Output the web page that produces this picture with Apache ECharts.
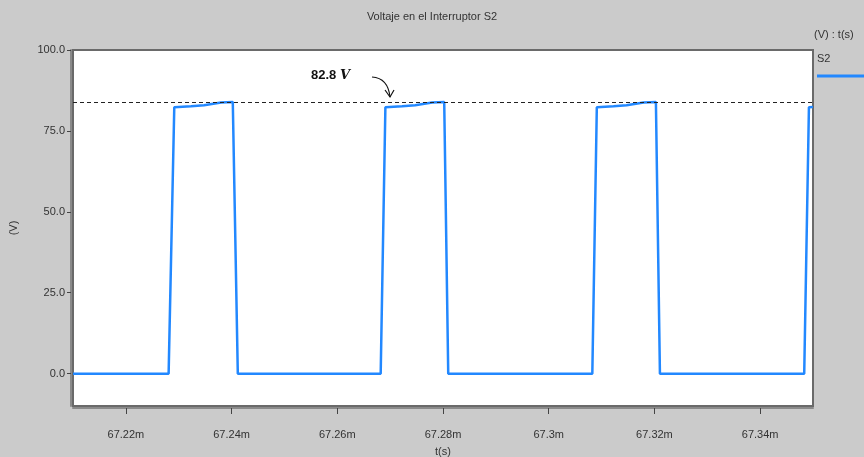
<!DOCTYPE html>
<html><head><meta charset="utf-8">
<script src="https://cdn.jsdelivr.net/npm/echarts@6/dist/echarts.min.js"></script>
<style>html,body{margin:0;padding:0;background:#cbcbcb}#c{width:864px;height:457px}</style>
</head><body><div id="c"></div>
<script>
// time in ms, voltage in V
const timeMs = [67.2100, 67.22809, 67.22916, 67.23232, 67.23479, 67.23801, 67.24023, 67.24118,
                67.26821, 67.26910, 67.27226, 67.27473, 67.27795, 67.28023, 67.28099,
                67.30825, 67.30910, 67.31226, 67.31473, 67.31795, 67.32028, 67.32104,
                67.34834, 67.34923, 67.3500];
const voltS2 = [0, 0, 82.3, 82.6, 82.9, 83.8, 83.95, 0,
                0, 82.3, 82.6, 82.9, 83.8, 83.95, 0,
                0, 82.3, 82.6, 82.9, 83.8, 83.95, 0,
                0, 82.3, 82.4];
const xTicks = [67.22, 67.24, 67.26, 67.28, 67.30, 67.32, 67.34];
const yTicks = [0, 25, 50, 75, 100];
const peakLine = 84.0;
const peakLabel = '82.8';

const font = '"Liberation Sans Narrow","Liberation Sans",Arial,sans-serif';
const chart = echarts.init(document.getElementById('c'), null, {renderer: 'canvas'});
const data = timeMs.map((t, i) => [t, voltS2[i]]);
chart.setOption({
  backgroundColor: '#cbcbcb',
  animation: false,
  title: {text: 'Voltaje en el Interruptor S2', left: 'center', top: 6,
    textStyle: {fontFamily: font, fontSize: 11, fontWeight: 'normal', color: '#333'}},
  grid: {left: 73, right: 51, top: 50, bottom: 51, show: true, backgroundColor: '#fff',
    borderColor: '#6a6a6a', borderWidth: 2, containLabel: false, outerBoundsMode: 'none'},
  xAxis: {type: 'value', min: 67.21, max: 67.35, offset: 2,
    name: 't(s)', nameLocation: 'middle', nameGap: 38,
    nameTextStyle: {fontFamily: font, fontSize: 11, color: '#333'},
    axisLine: {show: true, onZero: false, lineStyle: {color: '#8a8a8a', width: 2}},
    axisTick: {show: true, length: 6, customValues: xTicks, lineStyle: {color: '#444'}},
    axisLabel: {customValues: xTicks, margin: 21, fontFamily: font, fontSize: 11, color: '#333',
      formatter: v => String(+v.toFixed(2)) + 'm'},
    splitLine: {show: false}},
  yAxis: {type: 'value', min: -10, max: 100, offset: 2,
    name: '(V)', nameLocation: 'middle', nameGap: 52, nameRotate: 90,
    nameTextStyle: {fontFamily: font, fontSize: 11, color: '#333'},
    axisLine: {show: true, onZero: false, lineStyle: {color: '#8a8a8a', width: 2}},
    axisTick: {show: true, length: 4, customValues: yTicks, lineStyle: {color: '#444'}},
    axisLabel: {customValues: yTicks, margin: 6, fontFamily: font, fontSize: 11, color: '#333',
      formatter: v => v.toFixed(1)},
    splitLine: {show: false}},
  series: [{
    name: 'S2', type: 'line', data: data, showSymbol: false, symbol: 'none',
    lineStyle: {color: '#2288ff', width: 2.5},
    markLine: {silent: true, symbol: 'none', label: {show: false},
      lineStyle: {color: '#222', type: [4, 3], width: 1},
      data: [{yAxis: peakLine}]}
  }],
  graphic: [
    {type: 'text', left: 814, top: 29, style: {text: '(V) : t(s)', font: '11px ' + font, fill: '#333'}},
    {type: 'text', left: 817, top: 53, style: {text: 'S2', font: '11px ' + font, fill: '#333'}},
    {type: 'line', shape: {x1: 817, y1: 76, x2: 864, y2: 76}, style: {stroke: '#2288ff', lineWidth: 3}},
    {type: 'text', left: 311, top: 69, style: {
      text: '{a|' + peakLabel + ' }{b|V}',
      rich: {a: {fontFamily: 'Liberation Sans, sans-serif', fontWeight: 'bold', fontSize: 13, fill: '#111'},
             b: {fontFamily: 'DejaVu Serif, serif', fontStyle: 'italic', fontWeight: 'bold', fontSize: 13, fill: '#111'}}}},
    {type: 'bezierCurve', shape: {x1: 372, y1: 77, cpx1: 388, cpy1: 78, x2: 390, y2: 97},
      style: {stroke: '#111', lineWidth: 1.2, fill: null}},
    {type: 'polyline', shape: {points: [[385, 90], [390, 97], [394, 90]]},
      style: {stroke: '#111', lineWidth: 1.2, fill: null}}
  ]
});
</script></body></html>
